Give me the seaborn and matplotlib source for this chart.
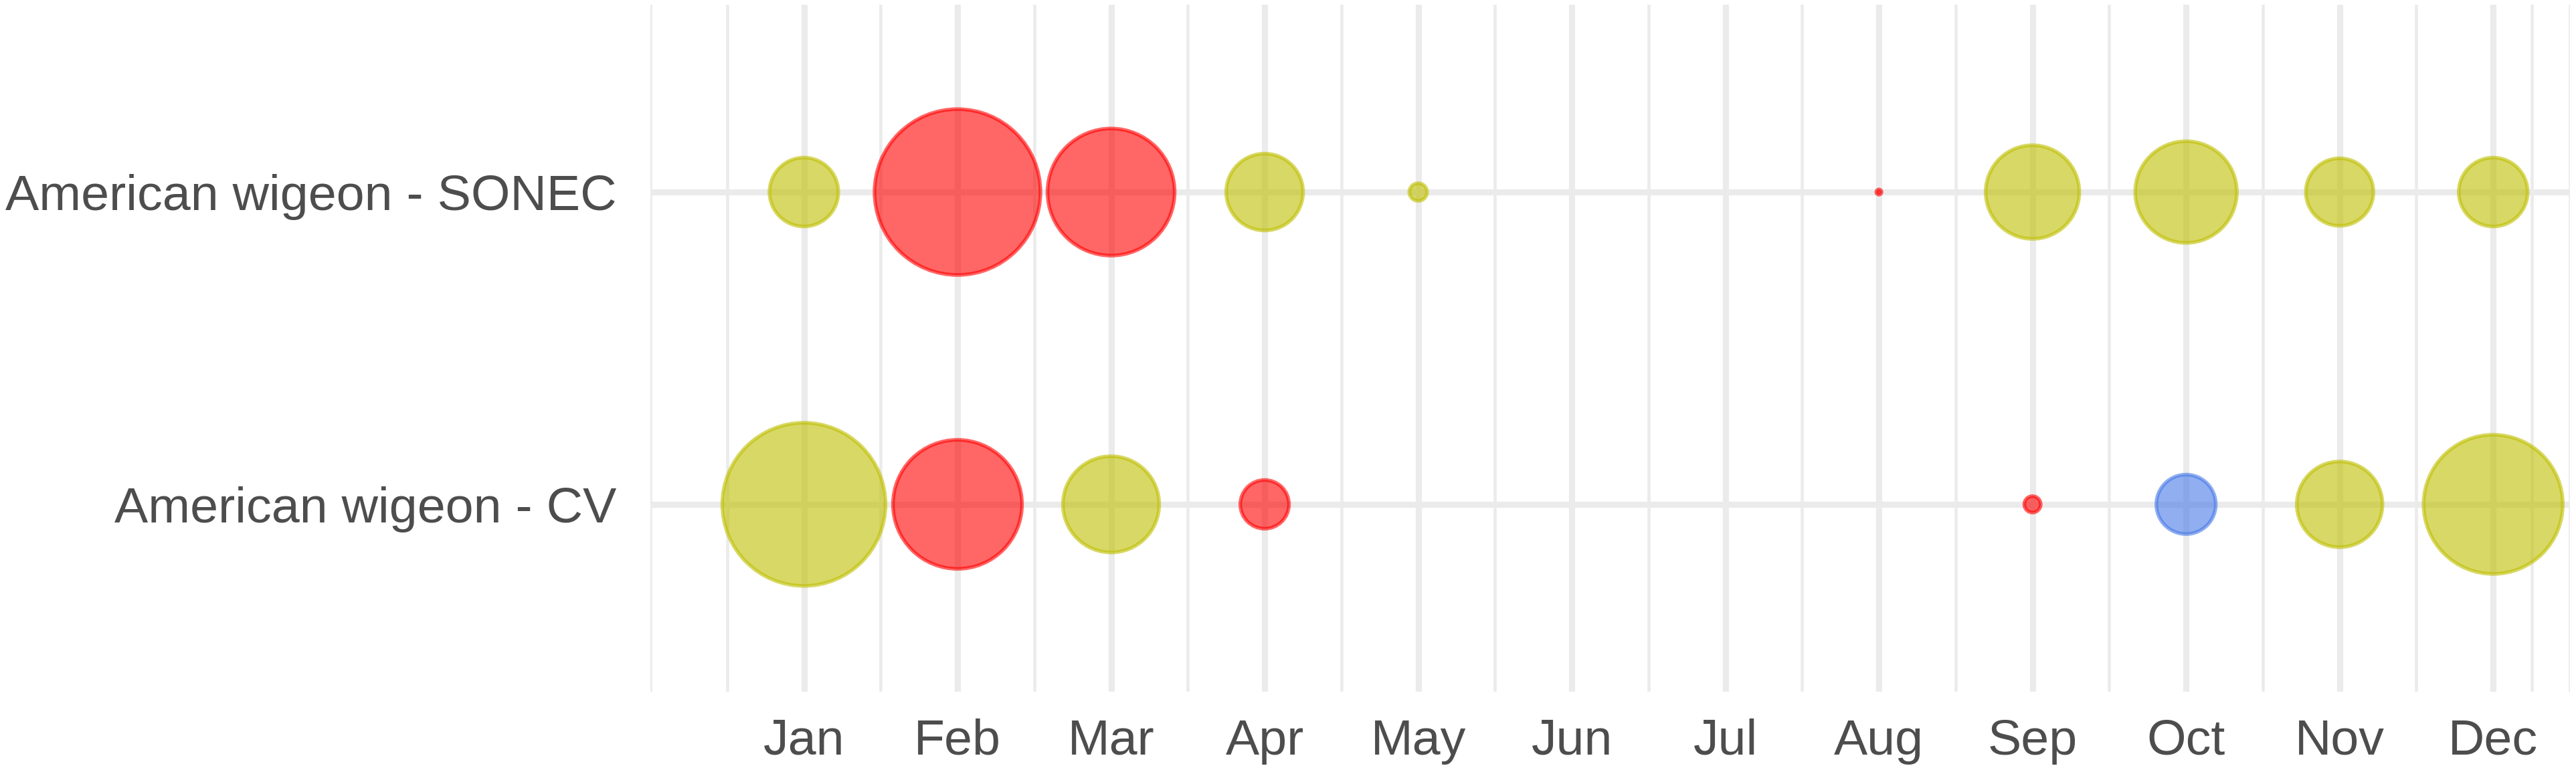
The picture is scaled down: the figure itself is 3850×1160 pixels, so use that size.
import numpy as np
import pandas as pd
import matplotlib
matplotlib.use('Agg')
import matplotlib.pyplot as plt
import seaborn as sns

# months on the x axis
months = ['Jan', 'Feb', 'Mar', 'Apr', 'May', 'Jun',
          'Jul', 'Aug', 'Sep', 'Oct', 'Nov', 'Dec']
month_num = list(range(1, 13))

# rows on the y axis
groups = ['American wigeon - CV', 'American wigeon - SONEC']

# bubble values per month (NaN = no bubble)
sonec_value = [106, 615, 361, 132, 7, np.nan, np.nan, 0.6, 196, 231, 102, 106]
cv_value = [595, 372, 207, 53, np.nan, np.nan, np.nan, np.nan, 6, 79, 164, 433]

# colour class per month
sonec_class = ['mid', 'low', 'low', 'mid', 'mid', None, None, 'low', 'mid', 'mid', 'mid', 'mid']
cv_class = ['mid', 'low', 'mid', 'low', None, None, None, None, 'low', 'high', 'mid', 'mid']

class_colors = {'low': '#ff0000', 'mid': '#bebe00', 'high': '#4678e6'}

# long table, CV first so it sits at the bottom
rows = []
for name, vals, cls in [(groups[0], cv_value, cv_class), (groups[1], sonec_value, sonec_class)]:
    for m, v, c in zip(month_num, vals, cls):
        if c is not None and not np.isnan(v):
            rows.append({'month': m, 'group': name, 'value': v, 'cls': c})
df = pd.DataFrame(rows)

sns.set_theme(style='whitegrid')
plt.rcParams['font.family'] = ['Liberation Sans', 'DejaVu Sans']

fig = plt.figure(figsize=(3850 / 300, 1160 / 300), dpi=300)
ax = fig.add_axes([972 / 3850, 1 - 1034 / 1160, (3841 - 972) / 3850, (1034 - 7) / 1160])

vmax = df['value'].max()
sns.scatterplot(data=df, x='month', y='group', hue='cls', size='value',
                palette=class_colors, sizes=(0, vmax * 5.76), size_norm=(0, vmax),
                alpha=0.6, linewidth=1.3, legend=False, ax=ax, zorder=3)

# stroke in the same colour, a bit stronger than the fill
coll = ax.collections[-1]
ec = coll.get_facecolors().copy()
ec[:, 3] = 0.8
coll.set_edgecolors(ec)

ax.set_xlim(0, 12.5)
ax.set_ylim(-0.6, 1.6)
ax.set_xticks(month_num)
ax.set_xticklabels(months)
ax.set_xticks([0, 0.5] + [m + 0.5 for m in range(1, 12)] + [12.25, 12.5], minor=True)
ax.set_yticks([0, 1])
ax.set_yticklabels(groups)
ax.set_xlabel('')
ax.set_ylabel('')

ax.grid(which='major', color='#ebebeb', linewidth=2.2)
ax.grid(which='minor', axis='x', color='#ebebeb', linewidth=1.1)
ax.set_axisbelow(True)
for s in ax.spines.values():
    s.set_visible(False)
ax.tick_params(axis='both', which='both', length=0, labelsize=18.1, colors='#4d4d4d')
ax.tick_params(axis='x', pad=9.6)
ax.tick_params(axis='y', pad=12.2)

fig.savefig('out.png', dpi=300, facecolor='white')
